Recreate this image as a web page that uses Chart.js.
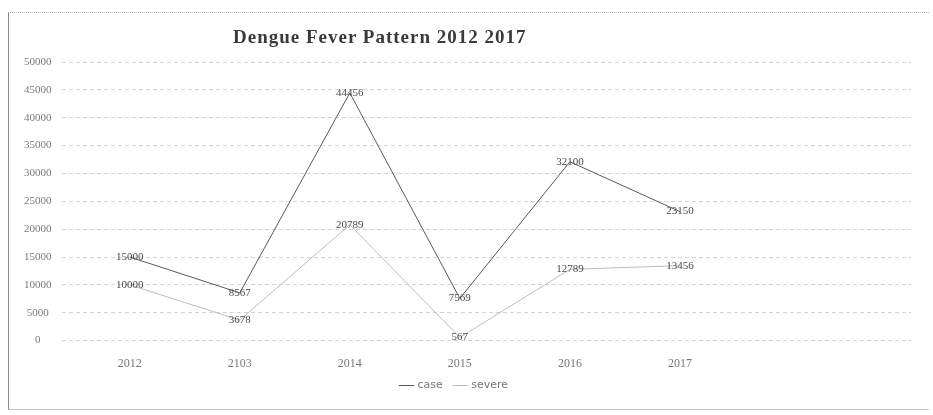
<!DOCTYPE html>
<html lang="en">
<head>
<meta charset="UTF-8">
<title>Dengue Fever Pattern 2012 2017</title>
<script src="https://cdn.jsdelivr.net/npm/chart.js"></script>
<style>
  body {
    margin: 0;
    background: #fff;
  }
  #wrap {
    position: relative;
    width: 933px;
    height: 415px;
  }
  #frame {
    position: absolute;
    left: 8px;
    top: 12px;
    width: 920px;
    height: 396px;
    border-left: 1px solid #8a8a8a;
    border-top: 1px dotted #bdbdbd;
    border-bottom: 1px solid #c4c4c4;
  }
  #title {
    position: absolute;
    left: 233px;
    top: 26px;
    font-family: "Liberation Serif", serif;
    font-weight: bold;
    font-size: 19px;
    letter-spacing: 1px;
    color: #3a3a3a;
  }
  canvas {
    position: absolute;
    left: 0;
    top: 0;
  }
</style>
</head>
<body>
<div id="wrap">
  <div id="frame"></div>
  <canvas id="dengueChart" width="933" height="415"></canvas>
  <div id="title">Dengue Fever Pattern 2012 2017</div>
</div>
<script>
// values
const years = ['2012', '2103', '2014', '2015', '2016', '2017'];
const caseCounts = [15000, 8567, 44456, 7569, 32100, 23150];
const severeCounts = [10000, 3678, 20789, 567, 12789, 13456];
const yTicks = [0, 5000, 10000, 15000, 20000, 25000, 30000, 35000, 40000, 45000, 50000];

function toPoints(values) {
  return values.map((v, i) => ({ x: i, y: v }));
}

// draws the number next to each point, like the excel data labels
const valueLabels = {
  id: 'valueLabels',
  afterDatasetsDraw(chart) {
    const ctx = chart.ctx;
    ctx.save();
    ctx.font = '11px "Liberation Serif", serif';
    ctx.fillStyle = '#4a4a4a';
    ctx.textAlign = 'center';
    ctx.textBaseline = 'middle';
    chart.data.datasets.forEach((ds, i) => {
      chart.getDatasetMeta(i).data.forEach((pt, j) => {
        ctx.fillText(String(ds.data[j].y), pt.x, pt.y);
      });
    });
    ctx.restore();
  }
};

// legend in the original sits a bit left of the middle and close to the axis
const legendShift = {
  id: 'legendShift',
  afterLayout(chart) {
    const lg = chart.legend;
    lg.left -= 8;
    lg.right -= 8;
    lg.top -= 11;
    lg.bottom -= 11;
  }
};

new Chart(document.getElementById('dengueChart'), {
  type: 'line',
  data: {
    datasets: [
      {
        label: 'case',
        data: toPoints(caseCounts),
        borderColor: '#5a5a5a',
        backgroundColor: '#5a5a5a',
        borderWidth: 1,
        pointRadius: 0,
        tension: 0
      },
      {
        label: 'severe',
        data: toPoints(severeCounts),
        borderColor: '#bdbdbd',
        backgroundColor: '#bdbdbd',
        borderWidth: 1,
        pointRadius: 0,
        tension: 0
      }
    ]
  },
  plugins: [valueLabels, legendShift],
  options: {
    responsive: false,
    animation: false,
    layout: {
      padding: { left: 14, right: 22, top: 62, bottom: 3 }
    },
    scales: {
      x: {
        type: 'linear',
        min: -0.62,
        max: 7.1,
        grid: { display: false },
        border: { display: false },
        afterBuildTicks(axis) {
          axis.ticks = years.map((y, i) => ({ value: i }));
        },
        ticks: {
          callback: (v) => years[v] !== undefined ? years[v] : '',
          color: '#777',
          font: { family: '"Liberation Serif", serif', size: 12 },
          padding: 8,
          maxRotation: 0
        }
      },
      y: {
        min: 0,
        max: 50000,
        afterBuildTicks(axis) {
          axis.ticks = yTicks.map(v => ({ value: v }));
        },
        grid: {
          color: '#d4d4d4',
          lineWidth: 1,
          drawTicks: false
        },
        border: { display: false, dash: [4, 3] },
        ticks: {
          callback: (v) => String(v),
          color: '#7a7a7a',
          font: { family: '"Liberation Serif", serif', size: 11 },
          crossAlign: 'center',
          padding: 10
        }
      }
    },
    plugins: {
      title: { display: false },
      tooltip: { enabled: false },
      legend: {
        display: true,
        position: 'bottom',
        labels: {
          usePointStyle: true,
          pointStyle: 'line',
          boxWidth: 22,
          color: '#777',
          font: { family: '"DejaVu Sans", sans-serif', size: 11 },
          padding: 12
        }
      }
    }
  }
});
</script>
</body>
</html>
